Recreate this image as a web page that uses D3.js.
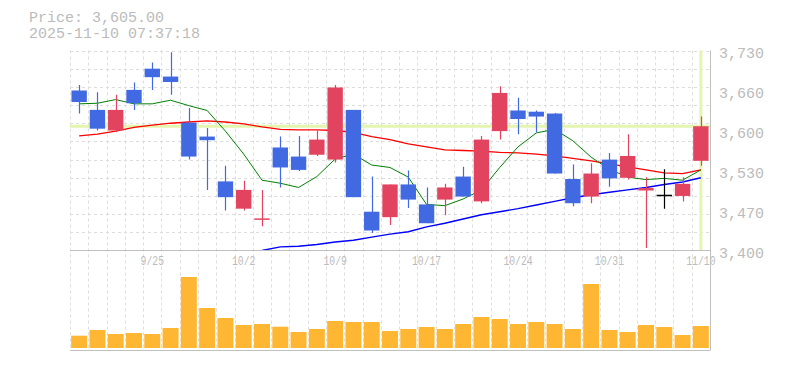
<!DOCTYPE html>
<html>
<head>
<meta charset="utf-8">
<script src="https://cdn.jsdelivr.net/npm/d3@7"></script>
<style>
  html, body { margin: 0; padding: 0; background: #ffffff; }
  svg { display: block; }
</style>
</head>
<body>
<svg id="chart" width="785" height="370"></svg>
<script>
// ---------------- data ----------------
const titlePrice = "Price: 3,605.00";
const titleTime = "2025-11-10 07:37:18";
const currentPrice = 3605;

const dates = ["9/18","9/19","9/22","9/24","9/25","9/26","9/29","9/30","10/1","10/2",
  "10/3","10/6","10/7","10/8","10/9","10/10","10/14","10/15","10/16","10/17",
  "10/20","10/21","10/22","10/23","10/24","10/27","10/28","10/29","10/30","10/31",
  "11/4","11/5","11/6","11/7","11/10"];

const open  = [3664,3632,3598,3665,3700,3687,3611,3588,3514,3469,
               3451,3570,3555,3558,3550,3632,3464,3455,3509,3476,
               3484,3522,3481,3597,3631,3629,3626,3518,3489,3550,
               3520,3499,3492,3490,3548];
const high  = [3673,3661,3657,3677,3710,3727,3635,3602,3540,3515,
               3500,3588,3589,3598,3673,3632,3522,3509,3532,3504,
               3510,3538,3589,3671,3652,3631,3627,3542,3544,3561,
               3592,3521,3534,3521,3621];
const low   = [3626,3598,3595,3632,3665,3657,3550,3500,3466,3466,
               3440,3504,3531,3556,3545,3488,3429,3442,3470,3445,
               3458,3489,3478,3583,3592,3595,3527,3473,3478,3505,
               3517,3404,3469,3481,3540];
const close = [3645,3601,3632,3643,3686,3678,3555,3582,3488,3500,
               3453,3537,3533,3583,3669,3488,3433,3509,3484,3445,
               3504,3489,3583,3660,3617,3621,3527,3478,3527,3519,
               3556,3503,3492,3510,3605];

// volume (thousand shares)
const volume = [123,180,140,150,140,200,710,400,300,230,
                240,213,160,190,270,260,260,170,190,210,
                190,240,310,290,240,260,240,190,640,180,
                160,230,210,130,220];

// moving averages
const ma5  = [3642,3643,3649,3642,3642,3648,3639,3631,3597,3559,
              3516,3511,3504,3522,3551,3559,3541,3537,3521,3476,
              3474,3485,3500,3537,3571,3594,3600,3581,3554,3534,
              3521,3517,3519,3516,3533];
const ma25 = [3589,3592,3597,3603,3607,3610,3612,3614,3612,3609,
              3604,3600,3599,3599,3598,3595,3588,3583,3576,3571,
              3566,3565,3564,3562,3561,3559,3556,3552,3548,3543,
              3538,3533,3528,3527,3533];
const ma75 = [null,null,null,null,null,null,null,null,null,null,
              3400,3406,3407,3410,3414,3417,3422,3427,3431,3439,
              3445,3452,3459,3464,3469,3475,3481,3487,3492,3496,
              3500,3504,3509,3513,3520];

const yTickValues = [3400,3466,3532,3598,3664,3730];
const yTickLabels = ["3,400","3,470","3,530","3,600","3,660","3,730"];
const xTickIndex = [4,9,14,19,24,29,34];

// ---------------- layout ----------------
const L = 70, R = 710, T = 50.5, B = 250.5, VB = 348, VAX = 350.5;
const textColor = "#bbbbbb", gridColor = "#dddddd", axisColor = "#c0c0c0";
const upColor = "#e2445f", downColor = "#4169e1", flatColor = "#000000";
const hlColor = "#e3f5ae";
const font = "'Liberation Mono', 'DejaVu Sans Mono', monospace";

const svg = d3.select("#chart");
const idx = d3.range(dates.length);

const x = d3.scaleBand().domain(idx).range([L, R]).padding(0);
const bw = x.bandwidth();
const cx = i => x(i) + bw / 2;
const y = d3.scaleLinear().domain([3400, 3730]).range([B, T]);
const yv = d3.scaleLinear().domain([0, 1000]).range([VB, VB - 100]);

svg.append("defs").append("clipPath").attr("id", "clipMain")
  .append("rect").attr("x", L).attr("y", T - 1).attr("width", R - L).attr("height", B - T + 1);

// title
[[titlePrice, 22], [titleTime, 38]].forEach(([t, yy]) => {
  svg.append("text").attr("x", 29).attr("y", yy).text(t)
    .attr("font-family", font).attr("font-size", 14).attr("fill", textColor)
    .attr("textLength", t.length * 9).attr("lengthAdjust", "spacingAndGlyphs");
});

// grid
const grid = svg.append("g");
grid.selectAll("line.h").data(d3.range(3430, 3731, 30)).join("line")
  .attr("x1", L).attr("x2", R)
  .attr("y1", d => Math.round(y(d)) + 0.5).attr("y2", d => Math.round(y(d)) + 0.5)
  .attr("stroke", gridColor).attr("stroke-dasharray", "3,3");
grid.selectAll("line.v").data(idx).join("line")
  .attr("x1", d => Math.round(x(d)) + 0.5).attr("x2", d => Math.round(x(d)) + 0.5)
  .attr("y1", T).attr("y2", VAX)
  .attr("stroke", gridColor).attr("stroke-dasharray", "3,3");

// current price highlight lines
svg.append("line").attr("x1", L).attr("x2", R)
  .attr("y1", y(currentPrice)).attr("y2", y(currentPrice))
  .attr("stroke", hlColor).attr("stroke-width", 3);
svg.append("line").attr("x1", cx(dates.length - 1)).attr("x2", cx(dates.length - 1))
  .attr("y1", T).attr("y2", B)
  .attr("stroke", hlColor).attr("stroke-width", 3);

// moving averages
const main = svg.append("g").attr("clip-path", "url(#clipMain)");
function maLine(arr, color, w) {
  const line = d3.line().defined(d => d[1] != null).x(d => cx(d[0])).y(d => y(d[1]));
  main.append("path").datum(arr.map((v, i) => [i, v]))
    .attr("d", line).attr("fill", "none").attr("stroke", color).attr("stroke-width", w);
}
maLine(ma25, "#ff0000", 1.3);
maLine(ma75, "#0000ff", 1.4);
maLine(ma5, "#008000", 1);

// candles
const candleW = bw * 0.84;
const colorOf = i => close[i] > open[i] ? upColor : (close[i] < open[i] ? downColor : flatColor);
const cg = main.append("g");
cg.selectAll("line.wick").data(idx).join("line")
  .attr("x1", i => Math.round(cx(i)) + 0.5).attr("x2", i => Math.round(cx(i)) + 0.5)
  .attr("y1", i => y(high[i])).attr("y2", i => y(low[i]))
  .attr("stroke", colorOf).attr("stroke-width", 1.2);
cg.selectAll("rect.body").data(idx).join("rect")
  .attr("x", i => cx(i) - candleW / 2).attr("width", candleW)
  .attr("y", i => y(Math.max(open[i], close[i])))
  .attr("height", i => Math.max(1.5, Math.abs(y(open[i]) - y(close[i]))))
  .attr("fill", colorOf);

// volume
svg.append("g").selectAll("rect").data(idx).join("rect")
  .attr("x", i => cx(i) - bw * 0.875 / 2).attr("width", bw * 0.875)
  .attr("y", i => yv(volume[i])).attr("height", i => VB - yv(volume[i]))
  .attr("fill", "#ffb733");

// axis frame lines
svg.append("line").attr("x1", L).attr("x2", R).attr("y1", B).attr("y2", B).attr("stroke", axisColor);
svg.append("line").attr("x1", L).attr("x2", R).attr("y1", VAX).attr("y2", VAX).attr("stroke", axisColor);

// x axis labels
const xAxis = svg.append("g").attr("transform", `translate(0,${B})`)
  .call(d3.axisBottom(x).tickValues(xTickIndex).tickFormat(i => dates[i]).tickSize(0));
xAxis.select(".domain").remove();
xAxis.selectAll("text")
  .attr("y", 14.5).attr("dy", null)
  .attr("font-family", font).attr("font-size", 12).attr("fill", textColor)
  .attr("textLength", function() { return this.textContent.length * 5.85; })
  .attr("lengthAdjust", "spacingAndGlyphs");

// right axis
svg.append("line").attr("x1", R + 0.5).attr("x2", R + 0.5).attr("y1", T).attr("y2", VAX).attr("stroke", axisColor);
const yAxis = svg.append("g").attr("transform", `translate(${R},0)`)
  .call(d3.axisRight(y).tickValues(yTickValues)
    .tickFormat((d, i) => yTickLabels[i]).tickSize(0).tickPadding(9));
yAxis.select(".domain").remove();
yAxis.selectAll("text").attr("dy", "0.47em")
  .attr("font-family", font).attr("font-size", 15).attr("fill", textColor);
</script>
</body>
</html>
